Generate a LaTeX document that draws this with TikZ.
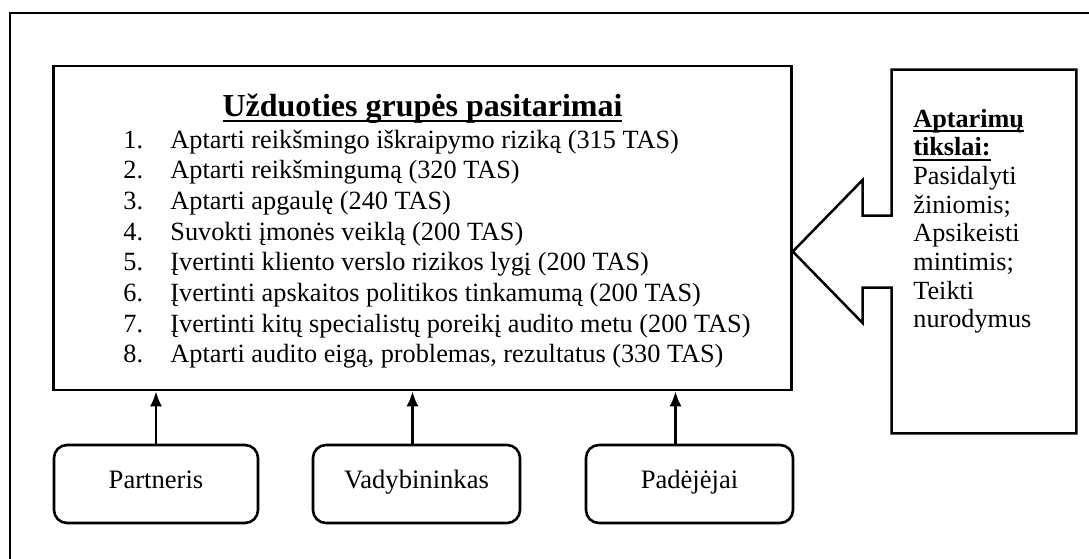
\documentclass[tikz,border=0pt]{standalone}
\usepackage{fontspec}
\setmainfont{Liberation Serif}
\usetikzlibrary{arrows.meta,calc}

% underline text: #1 depth of the rule bottom, #2 thickness, #3 text
\newcommand{\myuline}[3]{\setbox0\hbox{#3}\rlap{\rule[-#1]{\wd0}{#2}}\box0}

\begin{document}
\begin{tikzpicture}[x=0.5pt,y=-0.5pt,
  frame/.style={line width=1.25pt},
  mainbox/.style={draw,line width=1.3pt,minimum width=369pt,minimum height=162pt,inner sep=0pt},
  rolebox/.style={draw,line width=1.3pt,rounded corners=6.5pt,minimum width=102pt,minimum height=39pt,
    text height=0.68em,text depth=0.22em,font=\fontsize{13.3}{15}\selectfont},
  uparrow/.style={line width=1.2pt,-{Latex[length=7.5pt,width=6pt]}},
  body/.style={inner sep=0pt,font=\fontsize{13.15}{15.35}\selectfont},
]
\useasboundingbox (0,0) rectangle (1089,558);

% outer frame
\draw[frame] (1100,13) -- (10,13) -- (10,570);

% meeting topics
\node[mainbox] (tasks) at (422.5,228) {};
\node[anchor=base,inner sep=0pt,font=\fontsize{16}{19}\selectfont\bfseries] (title) at (422.5,116)
  {\myuline{3.1pt}{1.3pt}{Užduoties grupės pasitarimai}};
\node[body,anchor=base west] (items) at (123,148) {\begin{tabular}[t]{@{}p{23.5pt}@{}l@{}}
1. & Aptarti reikšmingo iškraipymo riziką (315 TAS)\\
2. & Aptarti reikšmingumą (320 TAS)\\
3. & Aptarti apgaulę (240 TAS)\\
4. & Suvokti įmonės veiklą (200 TAS)\\
5. & Įvertinti kliento verslo rizikos lygį (200 TAS)\\
6. & Įvertinti apskaitos politikos tinkamumą (200 TAS)\\
7. & Įvertinti kitų specialistų poreikį audito metu (200 TAS)\\
8. & Aptarti audito eigą, problemas, rezultatus (330 TAS)
\end{tabular}};

% goals callout with arrow pointing to the topics box
\node[inner sep=0pt,minimum width=92pt,minimum height=181.5pt] (goals) at (984,251.5) {};
\draw[frame] (goals.north west) -- (goals.north east) -- (goals.south east) -- (goals.south west)
  -- ($(goals.west)+(0,36)$) -- ++(-29,0) -- ++(0,35.5)
  -- (tasks.east |- goals.west)
  -- ($(goals.west)+(-29,-71.5)$) -- ++(0,35.5) -- ($(goals.west)+(0,-36)$) -- cycle;
\node[inner sep=0pt,anchor=base west,font=\fontsize{13.1}{14.35}\selectfont] (goaltext) at (913,127)
  {\begin{tabular}[t]{@{}l@{}}
\textbf{\myuline{2.6pt}{1pt}{Aptarimų}}\\
\textbf{\myuline{2.6pt}{1pt}{tikslai:}}\\
Pasidalyti\\
žiniomis;\\
Apsikeisti\\
mintimis;\\
Teikti\\
nurodymus
\end{tabular}};

% participants
\node[rolebox] (partner) at (156,484) {Partneris};
\node[rolebox,minimum width=103.5pt] (manager) at (416.5,484) {Vadybininkas};
\node[rolebox,minimum width=103.5pt] (assist) at (689.5,484) {Padėjėjai};
\coordinate (managerfoot) at ([xshift=-2pt]manager.north);
\coordinate (assistfoot) at ([xshift=-7pt]assist.north);

\draw[uparrow] (partner.north) -- (partner.north |- tasks.south);
\draw[uparrow] (managerfoot) -- (managerfoot |- tasks.south);
\draw[uparrow] (assistfoot) -- (assistfoot |- tasks.south);
\end{tikzpicture}
\end{document}
